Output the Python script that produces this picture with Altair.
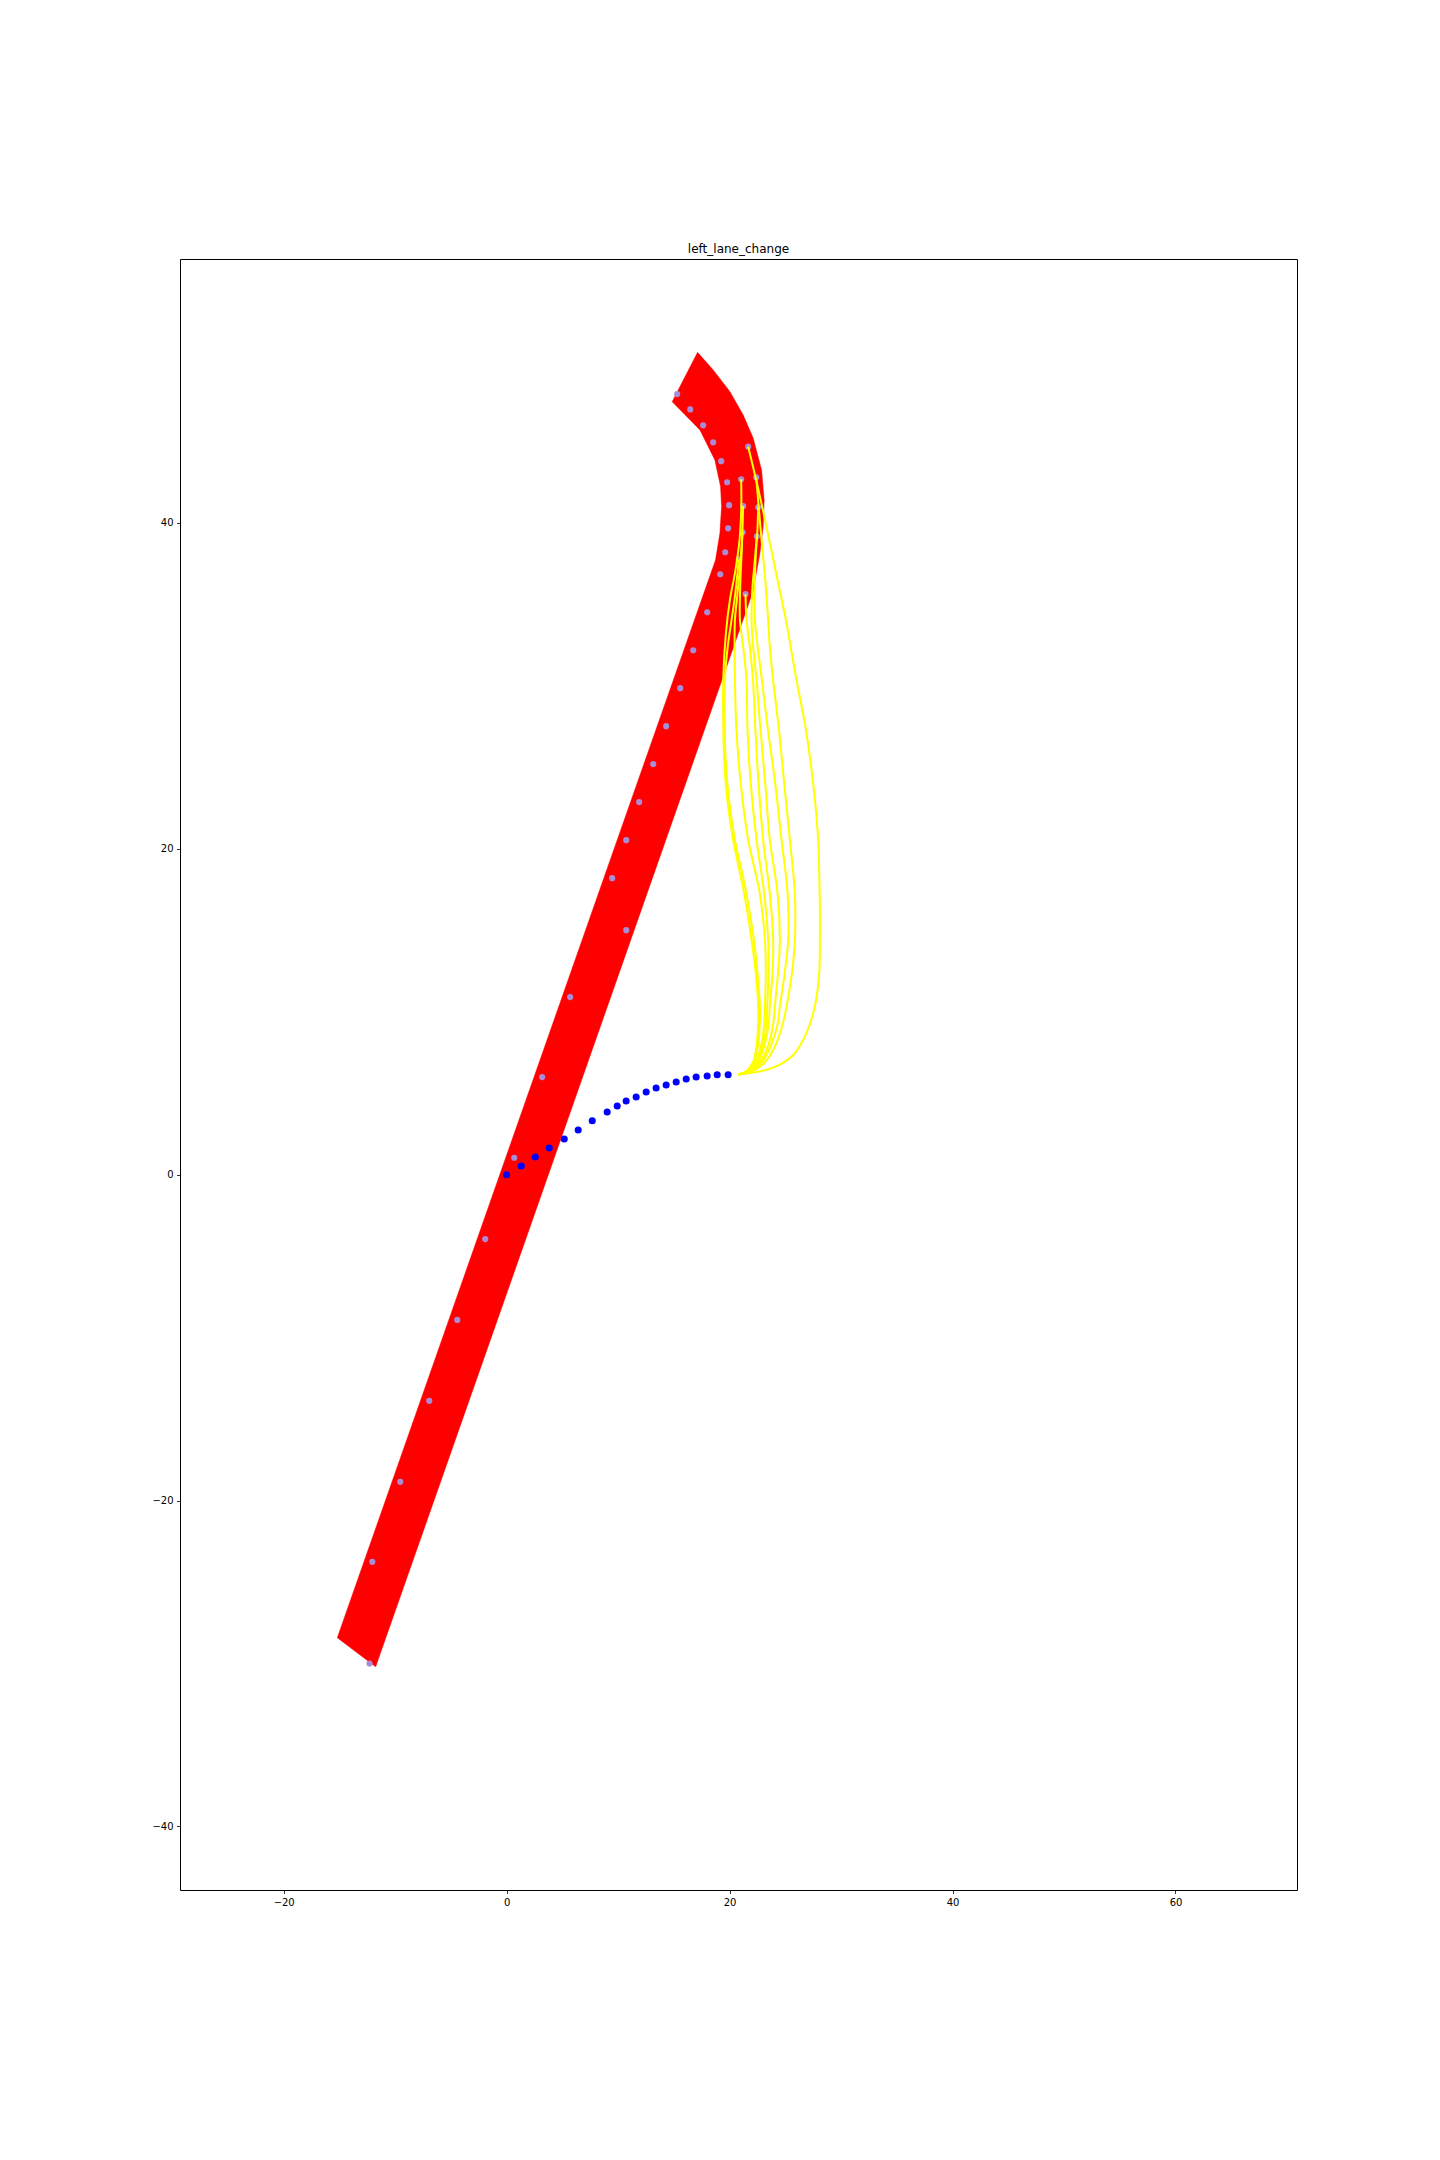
import pandas as pd
import altair as alt

# lane polygon, traced anticlockwise from the lowest corner
lane_x = [-11.75, -1.0, 10.0, 21.18, 22.1, 22.72, 23.01, 23.10, 22.87, 22.12, 21.22, 20.03, 18.53, 17.13,
          14.85, 17.34, 18.68, 19.19, 19.28, 19.13, 18.74, 8.0, -4.0, -15.19]
lane_y = [-30.2, -9.25, 12.2, 34.0, 35.8, 38.14, 39.77, 41.41, 43.25, 45.20, 46.63, 48.06, 49.39, 50.47,
          47.44, 45.71, 43.87, 42.23, 41.0, 39.37, 37.73, 16.8, -6.6, -28.42]

# reference points (purple)
ref_x = [-12.3, -12.05, -9.54, -6.94, -4.43, -1.92, 0.68, 3.19, 5.70, 10.73, 9.47, 10.73, 11.89, 13.15,
         14.31, 15.57, 16.74, 17.99, 19.16, 19.61, 19.87, 19.96, 19.78, 19.25, 18.53, 17.63, 16.47, 15.30,
         21.67, 21.04, 22.39, 21.22, 22.57, 21.17, 22.45, 20.83, 21.43]
ref_y = [-30.0, -23.76, -18.85, -13.88, -8.91, -3.95, 1.04, 5.99, 10.90, 15.01, 18.20, 20.53, 22.87, 25.20,
         27.53, 29.86, 32.19, 34.52, 36.85, 38.20, 39.67, 41.09, 42.50, 43.79, 44.95, 45.99, 46.97, 47.91,
         44.68, 42.68, 42.80, 41.04, 40.96, 39.43, 39.18, 37.77, 35.64]

# driven path (blue)
hist_x = [0.0, 1.31, 2.57, 3.82, 5.17, 6.42, 7.68, 9.02, 9.92, 10.72, 11.62, 12.52, 13.41, 14.31, 15.21,
          16.11, 17.0, 17.99, 18.89, 19.87]
hist_y = [0.0, 0.53, 1.09, 1.64, 2.19, 2.74, 3.31, 3.85, 4.22, 4.52, 4.77, 5.08, 5.32, 5.51, 5.69,
          5.87, 6.0, 6.06, 6.13, 6.13]

# candidate trajectories (yellow)
traj_a = [(20.8, 6.15), (21.5, 6.35), (22.1, 6.9), (22.4, 7.8), (22.55, 9.0), (22.57, 10.33), (22.35, 12.4),
          (21.97, 14.42), (21.3, 17.3), (20.32, 20.55), (19.8, 23.0), (19.52, 25.46), (19.43, 28.0),
          (19.43, 30.37), (19.67, 33.23), (20.03, 35.28), (20.5, 37.0), (20.9, 39.0), (21.05, 41.0), (21.04, 42.68)]
traj_b = [(20.8, 6.15), (21.55, 6.35), (22.2, 6.95), (22.55, 7.9), (22.7, 9.1), (22.72, 10.33), (22.5, 12.4),
          (22.18, 14.42), (21.5, 17.3), (20.48, 20.55), (19.95, 23.0), (19.65, 25.46), (19.55, 28.0),
          (19.58, 30.37), (19.85, 32.5), (20.18, 34.05), (20.5, 35.6), (20.83, 37.77)]
traj_c = [(20.8, 6.15), (21.7, 6.4), (22.4, 7.0), (22.85, 8.0), (23.1, 9.2), (23.17, 10.33), (23.25, 12.4),
          (23.17, 14.42), (22.7, 17.3), (21.67, 20.55), (21.0, 24.0), (20.6, 27.5), (20.48, 30.37),
          (20.45, 32.5), (20.48, 34.05), (20.7, 35.6), (20.95, 37.5), (21.17, 39.43)]
traj_d = [(20.8, 6.15), (21.75, 6.4), (22.5, 7.0), (23.0, 8.0), (23.3, 9.2), (23.37, 10.33), (23.5, 12.4),
          (23.46, 14.42), (23.1, 17.3), (22.42, 20.55), (21.9, 24.0), (21.6, 27.5), (21.52, 30.37),
          (21.2, 32.5), (20.93, 34.05), (20.95, 36.0), (21.1, 38.5), (21.22, 41.04)]
traj_e = [(20.8, 6.15), (21.8, 6.4), (22.6, 7.0), (23.15, 8.0), (23.5, 9.2), (23.61, 10.33), (23.85, 12.4),
          (23.91, 14.42), (23.6, 17.3), (23.01, 20.55), (22.6, 24.0), (22.3, 27.5), (22.1, 30.37),
          (21.8, 32.5), (21.52, 34.05), (21.43, 35.64)]
traj_f = [(20.8, 6.15), (21.9, 6.4), (22.8, 7.0), (23.5, 8.0), (23.9, 9.2), (24.06, 10.33), (24.35, 12.4),
          (24.51, 14.42), (24.3, 17.3), (23.61, 20.55), (23.2, 24.0), (22.75, 27.5), (22.42, 30.37),
          (22.1, 32.5), (21.97, 34.05), (22.05, 36.0), (22.25, 37.6), (22.45, 39.18)]
traj_g = [(20.8, 6.15), (22.0, 6.4), (23.0, 7.0), (23.75, 8.0), (24.3, 9.2), (24.51, 10.33), (24.95, 12.4),
          (25.26, 14.42), (25.2, 17.3), (24.66, 20.55), (24.1, 24.0), (23.4, 27.5), (22.9, 30.37),
          (22.5, 32.5), (22.27, 34.05), (22.25, 36.0), (22.35, 38.0), (22.5, 39.6), (22.57, 40.96)]
traj_h = [(20.8, 6.15), (22.2, 6.4), (23.3, 7.0), (24.15, 8.0), (24.75, 9.2), (25.11, 10.33), (25.6, 12.4),
          (25.86, 14.42), (25.85, 17.3), (25.41, 20.55), (24.9, 24.0), (24.4, 27.5), (23.9, 30.37),
          (23.6, 32.5), (23.46, 34.05), (23.2, 36.5), (22.8, 39.5), (22.39, 42.8)]
traj_i = [(20.8, 6.15), (23.32, 6.44), (24.51, 6.75), (25.87, 7.47), (26.9, 8.7), (27.65, 10.33), (28.04, 12.37),
          (28.1, 14.42), (28.1, 16.5), (28.04, 18.51), (27.95, 20.55), (27.5, 24.0), (26.8, 27.5),
          (26.0, 30.37), (25.05, 34.05), (24.3, 36.5), (23.3, 39.8), (22.5, 42.3), (21.67, 44.68)]
trajectories = [traj_a, traj_b, traj_c, traj_d, traj_e, traj_f, traj_g, traj_h, traj_i]

lane = pd.DataFrame({'x': lane_x, 'y': lane_y, 'i': range(len(lane_x))})
ref = pd.DataFrame({'x': ref_x, 'y': ref_y})
hist = pd.DataFrame({'x': hist_x, 'y': hist_y})
traj = pd.DataFrame([
    {'curve': k, 'i': j, 'x': p[0], 'y': p[1]}
    for k, t in enumerate(trajectories) for j, p in enumerate(t)
])

xs = alt.Scale(domain=[-29.3, 70.9], nice=False, zero=False)
ys = alt.Scale(domain=[-43.9, 56.2], nice=False, zero=False)
ax = dict(title=None, grid=False, domain=False, tickSize=3.5, tickWidth=0.8, tickColor='black',
          labelFontSize=10, labelFont='DejaVu Sans', labelColor='black', labelPadding=3.5)
X = alt.X('x:Q', scale=xs, axis=alt.Axis(values=[-20, 0, 20, 40, 60], **ax))
Y = alt.Y('y:Q', scale=ys, axis=alt.Axis(values=[-40, -20, 0, 20, 40], **ax))

lane_layer = alt.Chart(lane).mark_line(
    interpolate='linear-closed', fill='#ff0000', stroke='#ff0000', strokeWidth=0.5
).encode(x=X, y=Y, order='i:Q')

ref_layer = alt.Chart(ref).mark_circle(size=38, color='#a98bd8', opacity=1).encode(x=X, y=Y)

traj_layer = alt.Chart(traj).mark_line(
    color='#ffff00', strokeWidth=2, interpolate='catmull-rom'
).encode(x=X, y=Y, detail='curve:N', order='i:Q')

hist_layer = alt.Chart(hist).mark_circle(size=50, color='#0000ff', opacity=1).encode(x=X, y=Y)

chart = alt.layer(lane_layer, ref_layer, traj_layer, hist_layer).properties(
    width=1117, height=1631,
    title=alt.TitleParams('left_lane_change', fontSize=12, font='DejaVu Sans', fontWeight='normal',
                          color='black', offset=8, dy=14, baseline='alphabetic', anchor='middle'),
    autosize=alt.AutoSizeParams(type='none'),
    padding={'left': 172, 'top': 251, 'right': 135, 'bottom': 254},
).configure(background='white').configure_view(stroke='black', strokeWidth=1)

chart.save("out.html", embed_options={"renderer": "svg", "actions": False})
